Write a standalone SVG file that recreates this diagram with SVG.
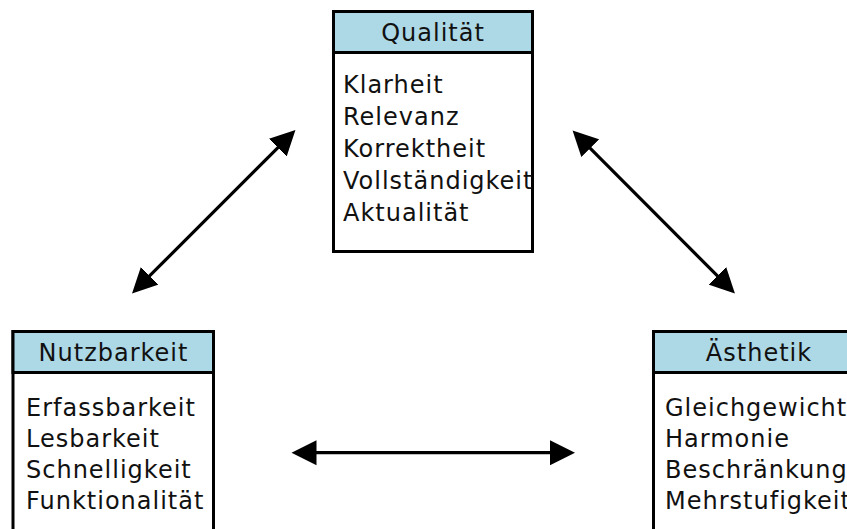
<svg xmlns="http://www.w3.org/2000/svg" width="847" height="529" viewBox="0 0 847 529">
  <style>
    .box { fill: #ffffff; stroke: #000000; stroke-width: 3; }
    .hdr { fill: #add8e6; stroke: #000000; stroke-width: 3; }
    text { font-family: "DejaVu Sans", Verdana, sans-serif; font-size: 24px; letter-spacing: 1px; fill: #111111; }
    .title { text-anchor: middle; }
    .conn { stroke: #000000; stroke-width: 3.2; fill: none; marker-start: url(#arr); marker-end: url(#arr); }
  </style>
  <defs>
    <marker id="arr" markerUnits="userSpaceOnUse" markerWidth="26" markerHeight="26" refX="2" refY="12.5" orient="auto-start-reverse" viewBox="0 0 26 25">
      <path d="M0,0 L25,12.5 L0,25 z" fill="#000000"/>
    </marker>
  </defs>
  <rect width="847" height="529" fill="#ffffff"/>

  <g id="connectors">
    <line class="conn" x1="148.3" y1="277.2" x2="279.2" y2="146.3"/>
    <line class="conn" x1="588.8" y1="146.8" x2="718.7" y2="277.2"/>
    <line class="conn" x1="314.5" y1="452.7" x2="552" y2="452.7"/>
  </g>

  <g id="qualitaet">
    <rect class="box" x="333.5" y="11.5" width="199" height="240"/>
    <rect class="hdr" x="333.5" y="11.5" width="199" height="41"/>
    <text class="title" x="433" y="41">Qualität</text>
    <text x="343" y="93">Klarheit</text>
    <text x="343" y="125">Relevanz</text>
    <text x="343" y="157">Korrektheit</text>
    <text x="343" y="189">Vollständigkeit</text>
    <text x="343" y="221">Aktualität</text>
  </g>

  <g id="nutzbarkeit">
    <rect class="box" x="13" y="331.5" width="200.5" height="240"/>
    <rect class="hdr" x="13" y="331.5" width="200.5" height="41"/>
    <text class="title" x="113.5" y="361">Nutzbarkeit</text>
    <text x="26" y="416">Erfassbarkeit</text>
    <text x="26" y="447">Lesbarkeit</text>
    <text x="26" y="478">Schnelligkeit</text>
    <text x="26" y="509">Funktionalität</text>
  </g>

  <g id="aesthetik">
    <rect class="box" x="653.5" y="331.5" width="211" height="240"/>
    <rect class="hdr" x="653.5" y="331.5" width="211" height="41"/>
    <text class="title" x="759" y="361">Ästhetik</text>
    <text x="665" y="416">Gleichgewicht</text>
    <text x="665" y="447">Harmonie</text>
    <text x="665" y="478">Beschränkung</text>
    <text x="665" y="509">Mehrstufigkeit</text>
  </g>
</svg>
